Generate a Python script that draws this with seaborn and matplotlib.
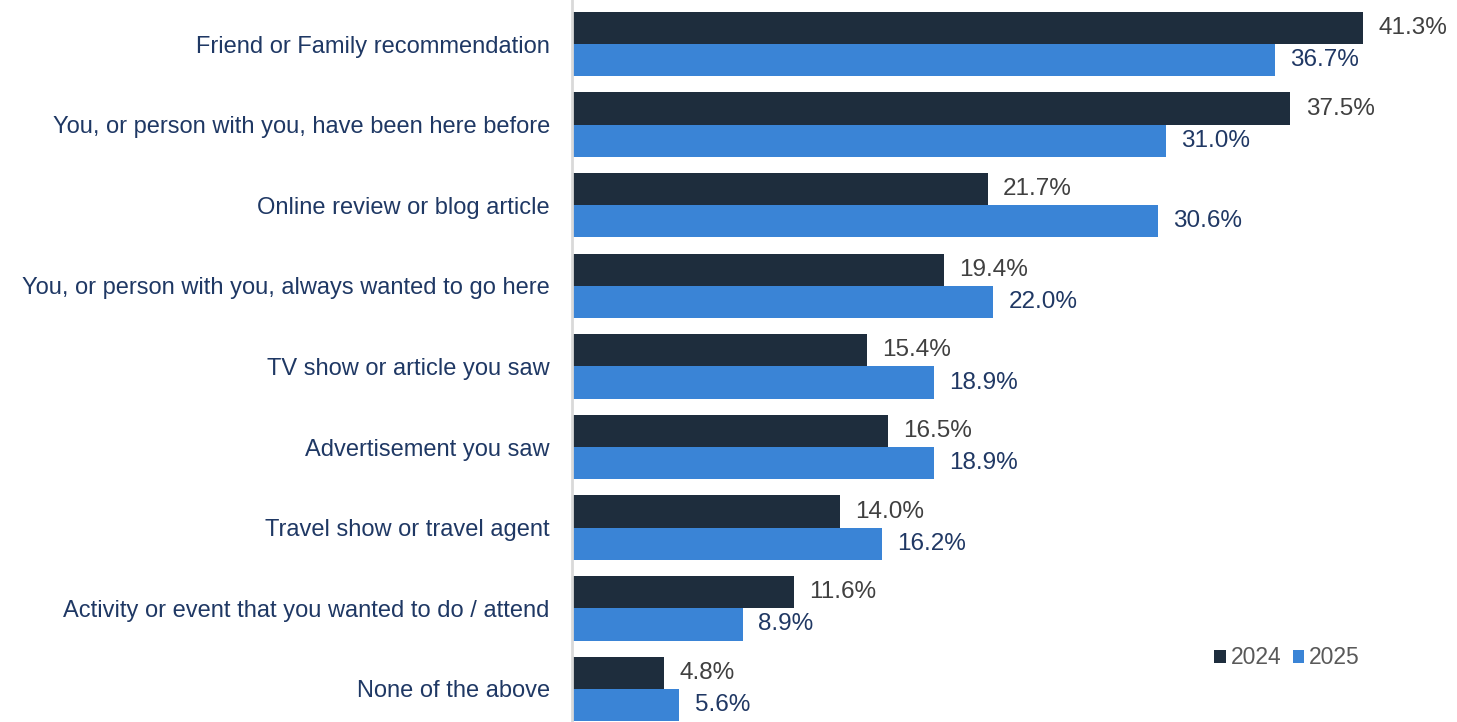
import matplotlib
matplotlib.use("Agg")
import matplotlib.pyplot as plt
import seaborn as sns
import pandas as pd

categories = [
    "Friend or Family recommendation",
    "You, or person with you, have been here before",
    "Online review or blog article",
    "You, or person with you, always wanted to go here",
    "TV show or article you saw",
    "Advertisement you saw",
    "Travel show or travel agent",
    "Activity or event that you wanted to do / attend",
    "None of the above",
]
values_2024 = [41.3, 37.5, 21.7, 19.4, 15.4, 16.5, 14.0, 11.6, 4.8]
values_2025 = [36.7, 31.0, 30.6, 22.0, 18.9, 18.9, 16.2, 8.9, 5.6]
years = ["2024", "2025"]

df = pd.DataFrame({
    "category": categories * 2,
    "value": values_2024 + values_2025,
    "year": [years[0]] * len(categories) + [years[1]] * len(categories),
})

sns.set_style("white")
plt.rcParams["font.family"] = ["Liberation Sans", "DejaVu Sans"]

colors = {"2024": "#1E2D3D", "2025": "#3A84D6"}
label_colors = {"2024": "#404040", "2025": "#203864"}

fig = plt.figure(figsize=(14.57, 7.22), dpi=100)
ax = fig.add_axes([0.3926, 0.0, 1 - 0.3926, 1.0])

sns.barplot(data=df, y="category", x="value", hue="year", order=categories,
            hue_order=years, palette=colors, orient="h", width=0.8,
            saturation=1, linewidth=0, ax=ax, legend=True)

for container, yr in zip(ax.containers, years):
    ax.bar_label(container, labels=[f"{v:.1f}%" for v in container.datavalues],
                 padding=11, fontsize=17.5, color=label_colors[yr])

ax.set_xlim(0, 46.2)
ax.set_ylim(8.41, -0.546)
ax.set_xlabel("")
ax.set_ylabel("")
ax.set_xticks([])
ax.tick_params(axis="y", length=0, pad=16, labelsize=17, labelcolor="#1F3864")
for side in ["top", "right", "bottom"]:
    ax.spines[side].set_visible(False)
ax.spines["left"].set_color("#D9D9D9")
ax.spines["left"].set_linewidth(2)

handles, labels = ax.get_legend_handles_labels()
ax.legend(handles, labels, loc="center left", bbox_to_anchor=(0.713, 0.089),
          ncol=2, frameon=False, fontsize=16.5, labelcolor="#595959",
          handlelength=0.5, handleheight=0.5, handletextpad=0.2,
          columnspacing=0.5, borderpad=0)

fig.savefig("out.png", dpi=100)
